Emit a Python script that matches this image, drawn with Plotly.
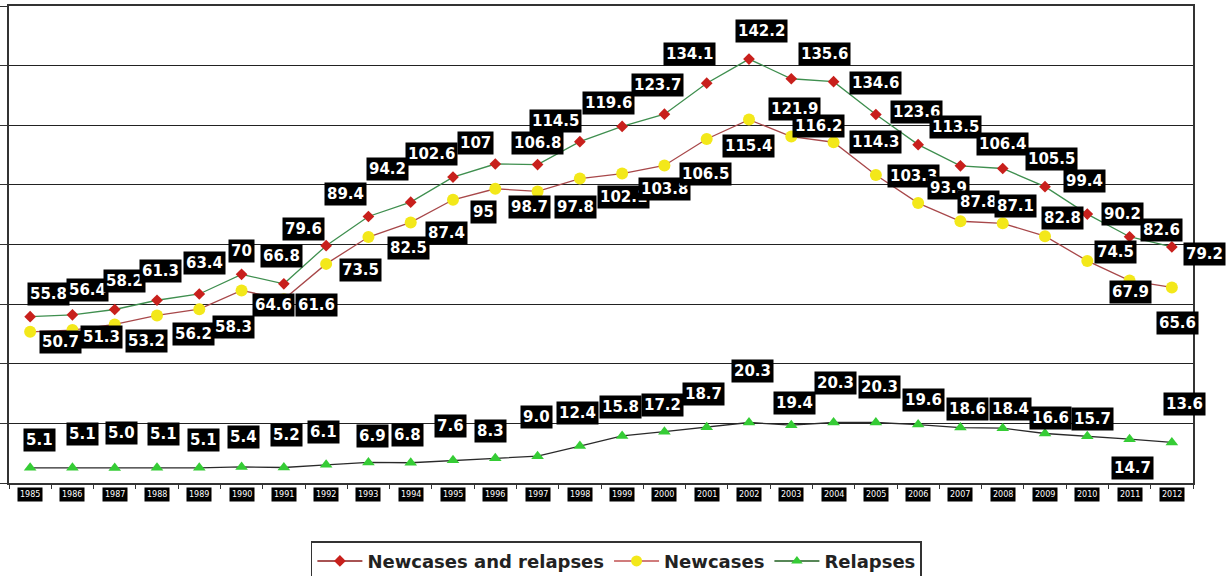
import plotly.graph_objects as go

years = [str(y) for y in range(1985, 2013)]
new_and_relapses = [55.8, 56.4, 58.2, 61.3, 63.4, 70, 66.8, 79.6, 89.4, 94.2, 102.6, 107, 106.8, 114.5,
                    119.6, 123.7, 134.1, 142.2, 135.6, 134.6, 123.6, 113.5, 106.4, 105.5, 99.4, 90.2, 82.6, 79.2]
new_cases = [50.7, 51.3, 53.2, 56.2, 58.3, 64.6, 61.6, 73.5, 82.5, 87.4, 95, 98.7, 97.8, 102.1,
             103.8, 106.5, 115.4, 121.9, 116.2, 114.3, 103.3, 93.9, 87.8, 87.1, 82.8, 74.5, 67.9, 65.6]
relapses = [5.1, 5.1, 5.0, 5.1, 5.1, 5.4, 5.2, 6.1, 6.9, 6.8, 7.6, 8.3, 9.0, 12.4,
            15.8, 17.2, 18.7, 20.3, 19.4, 20.3, 20.3, 19.6, 18.6, 18.4, 16.6, 15.7, 14.7, 13.6]
series_names = ["Newcases and relapses", "Newcases", "Relapses"]

# label text formats (as printed on the chart)
fmt1 = ["55.8", "56.4", "58.2", "61.3", "63.4", "70", "66.8", "79.6", "89.4", "94.2", "102.6", "107", "106.8", "114.5",
        "119.6", "123.7", "134.1", "142.2", "135.6", "134.6", "123.6", "113.5", "106.4", "105.5", "99.4", "90.2", "82.6", "79.2"]
fmt2 = ["50.7", "51.3", "53.2", "56.2", "58.3", "64.6", "61.6", "73.5", "82.5", "87.4", "95", "98.7", "97.8", "102.1",
        "103.8", "106.5", "115.4", "121.9", "116.2", "114.3", "103.3", "93.9", "87.8", "87.1", "82.8", "74.5", "67.9", "65.6"]
fmt3 = [f"{v:.1f}" for v in relapses]

# label pixel offsets (dx right, dy down) -- layout only
off1 = [(18, -23), (15, -25), (10, -28), (3, -29), (5, -31), (0, -23), (-2, -28), (-23, -17), (-23, -22), (-23, -33),
        (-22, -23), (-20, -21), (0, -22), (-24, -21), (-14, -23), (-7, -29), (-17, -29), (12, -28), (33, -25), (42, 1),
        (41, -3), (37, -18), (42, -22), (49, -9), (39, -6), (35, 0), (32, -7), (33, 7)]
off2 = [(30, 10), (29, 7), (32, 17), (36, 19), (34, 18), (32, 15), (33, 6), (34, 6), (40, 11), (36, 11),
        (30, 12), (34, 18), (38, 16), (44, 18), (42, 15), (41, 8), (42, 7), (45, -11), (27, -11), (42, 0),
        (38, 1), (30, -15), (18, -19), (13, -17), (17, -18), (28, -9), (1, 11), (6, 36)]
off3 = [(9, -28), (10, -34), (7, -35), (6, -34), (4, -28), (2, -30), (3, -33), (-3, -33), (4, -26), (-3, -28),
        (-3, -34), (-5, -27), (-1, -39), (-2, -33), (-2, -29), (-2, -27), (-3, -33), (3, -51), (3, -22), (2, -39),
        (4, -35), (5, -25), (7, -19), (8, -19), (5, -16), (5, -17), (3, 29), (13, -38)]

fig = go.Figure()

fig.add_trace(go.Scatter(x=years, y=new_and_relapses, mode="lines+markers", showlegend=False,
                         line=dict(color="#3f8f4f", width=1.3),
                         marker=dict(symbol="diamond", size=9, color="#c8201c")))
fig.add_trace(go.Scatter(x=years, y=new_cases, mode="lines+markers", showlegend=False,
                         line=dict(color="#a8484a", width=1.3),
                         marker=dict(symbol="circle", size=12, color="#f3e81a")))
fig.add_trace(go.Scatter(x=years, y=relapses, mode="lines+markers", showlegend=False,
                         line=dict(color="#2a2a2a", width=1.3),
                         marker=dict(symbol="triangle-up", size=11, color="#35cc35")))

# legend-only entries
leg_styles = [("#8b1a1a", "diamond", "#c8201c", 9), ("#c05050", "circle", "#f3e81a", 11), ("#1f5f1f", "triangle-up", "#35cc35", 10)]
for name, (lc, sym, mc, ms) in zip(series_names, leg_styles):
    fig.add_trace(go.Scatter(x=[None], y=[None], mode="lines+markers", name=name,
                             line=dict(color=lc, width=1.5),
                             marker=dict(symbol=sym, size=ms, color=mc)))

annotations = []
for vals, txts, offs in [(new_and_relapses, fmt1, off1), (new_cases, fmt2, off2), (relapses, fmt3, off3)]:
    for i, (v, t, (dx, dy)) in enumerate(zip(vals, txts, offs)):
        annotations.append(dict(x=i, y=v, xref="x", yref="y", text=t, showarrow=False,
                                xshift=dx, yshift=-dy, bgcolor="black", borderpad=2,
                                font=dict(family="DejaVu Sans", size=15, color="white", weight="bold")))

for i, yr in enumerate(years):
    annotations.append(dict(x=i, y=0, xref="x", yref="paper", text=yr, showarrow=False,
                            yshift=-11, yanchor="middle", bgcolor="black", borderpad=2,
                            font=dict(family="DejaVu Sans", size=8, color="white")))

fig.update_layout(
    width=1228, height=576,
    margin=dict(l=9, r=35, t=6, b=93, autoexpand=False),
    paper_bgcolor="white", plot_bgcolor="white",
    annotations=annotations,
    showlegend=True,
    legend=dict(orientation="h", x=0.513, xanchor="center", y=-0.122, yanchor="top",
                bordercolor="#333333", borderwidth=1.5, bgcolor="white",
                font=dict(family="DejaVu Sans", size=18, color="#222222", weight="bold"),
                itemwidth=45),
    xaxis=dict(type="category", range=[-0.5, 27.5], showgrid=False, showline=True, mirror=True,
               linecolor="#333333", linewidth=2, ticks="outside", tickson="boundaries",
               ticklen=4, tickcolor="#333333", showticklabels=False),
    yaxis=dict(range=[0, 160], dtick=20, showgrid=True, gridcolor="#222222", gridwidth=1.3,
               showline=True, mirror=True, linecolor="#333333", linewidth=2, ticks="outside",
               ticklen=7, tickcolor="#333333", showticklabels=False, zeroline=False),
)

fig.write_html("out.html", config={"displayModeBar": False},
               post_script="document.body.style.margin='0';document.body.style.overflow='hidden';")
